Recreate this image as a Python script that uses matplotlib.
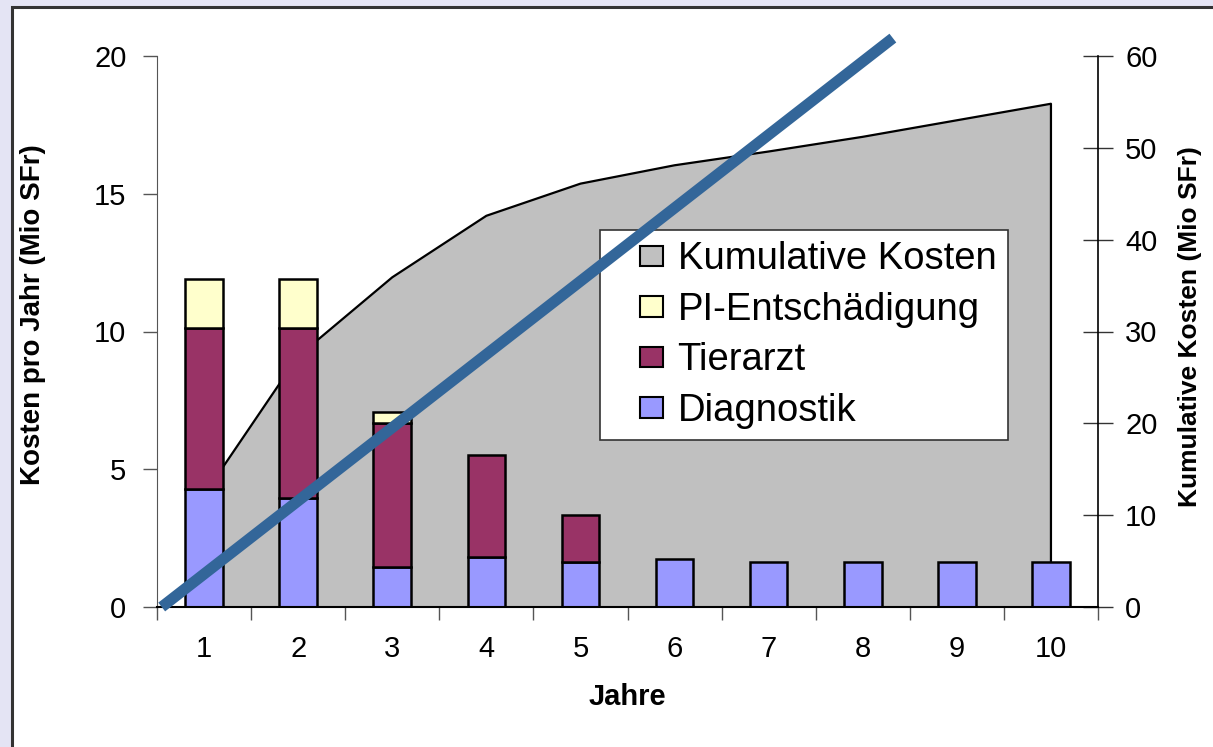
import matplotlib
matplotlib.use("Agg")
import matplotlib.pyplot as plt
from matplotlib.patches import Rectangle, Patch
from matplotlib.legend_handler import HandlerPatch
import numpy as np

plt.rcParams['font.family'] = ['Liberation Sans', 'DejaVu Sans']

# ---- data ----
years = [1, 2, 3, 4, 5, 6, 7, 8, 9, 10]
diagnostik = [4.28, 3.97, 1.47, 1.80, 1.63, 1.74, 1.64, 1.64, 1.64, 1.64]
tierarzt = [5.86, 6.17, 5.22, 3.70, 1.71, 0, 0, 0, 0, 0]
pi_entsch = [1.76, 1.76, 0.40, 0, 0, 0, 0, 0, 0, 0]
kumulativ = [12.2, 27.3, 35.9, 42.6, 46.1, 48.1, 49.6, 51.2, 53.0, 54.8]
trend_x = [0.55, 8.32]
trend_y = [0.0, 20.65]
left_ticks = [0, 5, 10, 15, 20]
right_ticks = [0, 10, 20, 30, 40, 50, 60]

c_diag = '#9999FF'
c_tier = '#993366'
c_pi = '#FFFFCC'
c_kum = '#C0C0C0'
c_trend = '#336699'

fig = plt.figure(figsize=(12.13, 7.47), dpi=100)
fig.patch.set_facecolor('#E4E4F4')
panel = Rectangle((12/1213, -0.01), 1.0, 1.01 - 7/747, transform=fig.transFigure,
                  facecolor='white', edgecolor='#333333', linewidth=2.2, zorder=-10)
fig.patches.append(panel)

ax1 = fig.add_axes([157/1213, 1 - 607/747, (1098-157)/1213, (607-56)/747])
ax2 = ax1.twinx()
ax2.set_zorder(1)
ax1.set_zorder(2)
ax1.patch.set_visible(False)
ax2.patch.set_visible(False)

x = np.array(years)
# cumulative area on right axis
ax2.fill_between(x, 0, kumulativ, facecolor=c_kum, edgecolor='none', zorder=1)
ax2.plot(np.r_[x[0], x, x[-1]], np.r_[0, kumulativ, 0], color='black', lw=1.6, zorder=2)
ax2.set_ylim(0, 60)
ax2.set_yticks(right_ticks)

w = 0.40
b1 = np.array(diagnostik)
b2 = b1 + np.array(tierarzt)
ax1.bar(x, diagnostik, w, color=c_diag, edgecolor='black', lw=1.8, zorder=2)
mask_t = np.array(tierarzt) > 0
ax1.bar(x[mask_t], np.array(tierarzt)[mask_t], w, bottom=b1[mask_t], color=c_tier,
        edgecolor='black', lw=1.8, zorder=2)
mask_p = np.array(pi_entsch) > 0
ax1.bar(x[mask_p], np.array(pi_entsch)[mask_p], w, bottom=b2[mask_p], color=c_pi,
        edgecolor='black', lw=1.8, zorder=2)

ax1.set_xlim(0.5, 10.5)
ax1.set_ylim(0, 20)
ax1.set_yticks(left_ticks)

# x ticks: marks at boundaries, labels at centres
ax1.set_xticks(np.arange(0.5, 11, 1.0))
ax1.set_xticklabels([])
ax1.set_xticks(x, minor=True)
ax1.set_xticklabels([str(v) for v in years], minor=True)
ax1.tick_params(axis='x', which='major', direction='out', length=9, width=1, color='#555555')
ax1.tick_params(axis='x', which='minor', length=0, pad=20, labelsize=21)
ax1.tick_params(axis='y', direction='out', length=10, width=1, color='#555555', pad=12, labelsize=21)
ax2.tick_params(axis='y', direction='inout', length=21, width=1, color='#333333', pad=9, labelsize=21)

for a in (ax1, ax2):
    a.spines['top'].set_visible(False)
ax1.spines['left'].set_color('#555555')
ax2.spines['left'].set_visible(False)
ax1.spines['right'].set_visible(False)
ax2.spines['bottom'].set_visible(False)
ax1.spines['bottom'].set_color('black')
ax1.spines['bottom'].set_linewidth(1.5)
ax2.spines['right'].set_color('black')
ax2.spines['right'].set_linewidth(1.2)

ax1.set_xlabel('Jahre', fontsize=21, fontweight='bold')
ax1.xaxis.set_label_coords((627-157)/941, (607-697)/551)
ax1.xaxis.label.set_va('center')
ax1.set_ylabel('Kosten pro Jahr (Mio SFr)', fontsize=20, fontweight='bold')
ax1.yaxis.set_label_coords((33-157)/941, (607-315)/551)
ax1.yaxis.label.set_va('center')
ax2.set_ylabel('Kumulative Kosten (Mio SFr)', fontsize=19, fontweight='bold')
ax2.yaxis.set_label_coords((1190-157)/941, (607-327)/551)
ax2.yaxis.label.set_va('center')


# legend with small squares at the right end of each handle box
def square_patch(legend, orig_handle, xdescent, ydescent, width, height, fontsize):
    sw, sh = 16.5, 14.5
    return Rectangle((width - sw - xdescent, -ydescent + (height - sh) / 2), sw, sh)


handles = [Patch(facecolor=c_kum, edgecolor='black', lw=1.5),
           Patch(facecolor=c_pi, edgecolor='black', lw=1.5),
           Patch(facecolor=c_tier, edgecolor='black', lw=1.5),
           Patch(facecolor=c_diag, edgecolor='black', lw=1.5)]
labels = ['Kumulative Kosten', 'PI-Entschädigung', 'Tierarzt', 'Diagnostik']
hm = {h: HandlerPatch(patch_func=square_patch) for h in handles}
leg = ax1.legend(handles, labels, loc='upper left', bbox_to_anchor=((600-157)/941, (607-230)/551),
                 fontsize=27.5, frameon=True, fancybox=False, edgecolor='#333333',
                 facecolor='white', framealpha=1.0,
                 handlelength=1.35, handleheight=0.6, handletextpad=0.38,
                 labelspacing=0.38, borderpad=0.3, borderaxespad=0, handler_map=hm)
leg.get_frame().set_linewidth(1.2)
leg.set_zorder(5)

# trend line
ax1.plot(trend_x, trend_y, color=c_trend, lw=8, solid_capstyle='butt', zorder=10, clip_on=False)

fig.savefig('out.png', dpi=100, facecolor=fig.get_facecolor())
